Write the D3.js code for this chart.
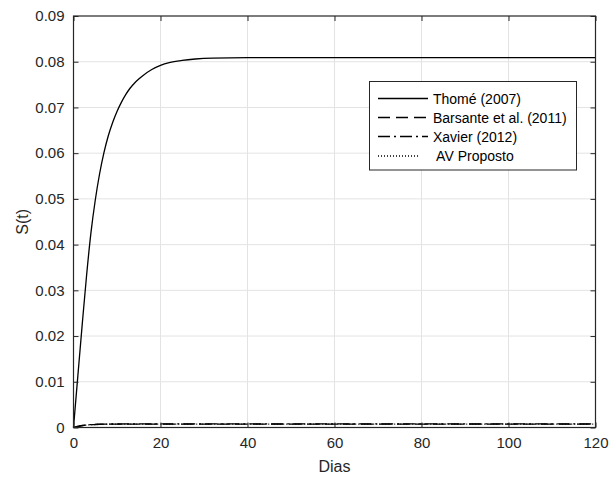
<!DOCTYPE html>
<html>
<head>
<meta charset="utf-8">
<script src="https://cdn.jsdelivr.net/npm/d3@7"></script>
<style>
  html, body { margin: 0; padding: 0; background: #fff; }
  svg { display: block; font-family: "Liberation Sans", Arial, Helvetica, sans-serif; }
</style>
</head>
<body>
<svg id="chart" width="609" height="479"></svg>
<script>
// ---- data ----
const thomeT = [0, 1, 2, 3, 4, 5, 6, 7, 8, 9, 10, 11, 12, 13, 14, 15, 16, 18, 20, 22, 25, 28, 32, 40, 60, 80, 100, 120];
const thomeS = [0, 0.0113, 0.0225, 0.0332, 0.0425, 0.0497, 0.0555, 0.0601, 0.0638, 0.0667, 0.0691, 0.0711, 0.0728, 0.0742, 0.0753, 0.0762, 0.0770, 0.0783, 0.0792, 0.0798, 0.0803, 0.0806, 0.0808, 0.0809, 0.0809, 0.0809, 0.0809, 0.0809];
const smallT = [0, 1, 2, 3, 5, 7, 10, 15, 20, 40, 60, 80, 100, 120];
const barsanteS = [0, 0.00025, 0.00042, 0.00054, 0.00066, 0.00072, 0.00075, 0.00076, 0.00076, 0.00076, 0.00076, 0.00076, 0.00076, 0.00076];
const xavierS   = [0, 0.00026, 0.00044, 0.00056, 0.00068, 0.00074, 0.00077, 0.00078, 0.00078, 0.00078, 0.00078, 0.00078, 0.00078, 0.00078];
const avS       = [0, 0.00024, 0.00040, 0.00052, 0.00064, 0.00070, 0.00073, 0.00074, 0.00074, 0.00074, 0.00074, 0.00074, 0.00074, 0.00074];
const xTicks = [0, 20, 40, 60, 80, 100, 120];
const yTicks = [0, 0.01, 0.02, 0.03, 0.04, 0.05, 0.06, 0.07, 0.08, 0.09];
const seriesNames = ["Thomé (2007)", "Barsante et al. (2011)", "Xavier (2012)", " AV Proposto"];
const seriesDash = [null, "12,6", "12,4,2,4", "1,2"];

// ---- layout ----
const svg = d3.select("#chart");
const L = 73.5, R = 595.5, T = 16, B = 427.5;
const x = d3.scaleLinear().domain([0, 120]).range([L, R]);
const y = d3.scaleLinear().domain([0, 0.09]).range([B, T]);

// grid
const g = svg.append("g");
g.selectAll(".gx").data(xTicks.slice(1, -1)).enter().append("line")
  .attr("x1", d => x(d)).attr("x2", d => x(d)).attr("y1", T).attr("y2", B)
  .attr("stroke", "#e3e3e3").attr("stroke-width", 1);
g.selectAll(".gy").data(yTicks.slice(1, -1)).enter().append("line")
  .attr("x1", L).attr("x2", R).attr("y1", d => y(d)).attr("y2", d => y(d))
  .attr("stroke", "#e3e3e3").attr("stroke-width", 1);

// series
const line = d3.line().x(d => x(d[0])).y(d => y(d[1])).curve(d3.curveMonotoneX);
const allSeries = [
  d3.zip(thomeT, thomeS),
  d3.zip(smallT, barsanteS),
  d3.zip(smallT, xavierS),
  d3.zip(smallT, avS)
];
allSeries.forEach((s, i) => {
  svg.append("path").datum(s).attr("d", line)
    .attr("fill", "none").attr("stroke", "#000").attr("stroke-width", 1.3)
    .attr("stroke-dasharray", seriesDash[i]);
});

// axes
const tickLen = 5;
const xAxisB = d3.axisBottom(x).tickValues(xTicks).tickSizeInner(-tickLen).tickSizeOuter(0).tickPadding(10).tickFormat(d3.format("d"));
const xAxisT = d3.axisTop(x).tickValues(xTicks).tickSizeInner(-tickLen).tickSizeOuter(0).tickFormat("");
const yAxisL = d3.axisLeft(y).tickValues(yTicks).tickSizeInner(-tickLen).tickSizeOuter(0).tickPadding(9).tickFormat(d => d === 0 ? "0" : d3.format(".2f")(d));
const yAxisR = d3.axisRight(y).tickValues(yTicks).tickSizeInner(-tickLen).tickSizeOuter(0).tickFormat("");

function style(sel) {
  sel.select(".domain").remove();
  sel.selectAll("line").attr("stroke", "#262626");
  sel.selectAll("text").attr("fill", "#262626").style("font-size", "15px")
    .style("font-family", "'Liberation Sans', Arial, sans-serif");
}
svg.append("g").attr("transform", `translate(0,${B})`).call(xAxisB).call(style);
svg.append("g").attr("transform", `translate(0,${T})`).call(xAxisT).call(style);
svg.append("g").attr("transform", `translate(${L},0)`).call(yAxisL).call(style);
svg.append("g").attr("transform", `translate(${R},0)`).call(yAxisR).call(style);

// box
svg.append("rect").attr("x", L).attr("y", T).attr("width", R - L).attr("height", B - T)
  .attr("fill", "none").attr("stroke", "#262626").attr("stroke-width", 1.2);

// axis labels
svg.append("text").attr("x", (L + R) / 2).attr("y", 472).attr("text-anchor", "middle")
  .attr("fill", "#262626").style("font-size", "16px").text("Dias");
svg.append("text").attr("transform", `translate(28,${(T + B) / 2}) rotate(-90)`)
  .attr("text-anchor", "middle").attr("fill", "#262626").style("font-size", "16px").text("S(t)");

// legend
const lg = svg.append("g");
lg.append("rect").attr("x", 369.5).attr("y", 81.5).attr("width", 207).attr("height", 88.5)
  .attr("fill", "#fff").attr("stroke", "#262626").attr("stroke-width", 1);
const rowY = [98.5, 117.5, 136.5, 156];
seriesNames.forEach((name, i) => {
  lg.append("line").attr("x1", 378).attr("x2", i === 3 ? 420 : 428)
    .attr("y1", rowY[i]).attr("y2", rowY[i])
    .attr("stroke", "#000").attr("stroke-width", 1.3).attr("stroke-dasharray", seriesDash[i]);
  lg.append("text").attr("x", 433).attr("y", rowY[i] + 5).attr("fill", "#000")
    .style("font-size", "14px").style("white-space", "pre").attr("xml:space", "preserve").text(name);
});
</script>
</body>
</html>
